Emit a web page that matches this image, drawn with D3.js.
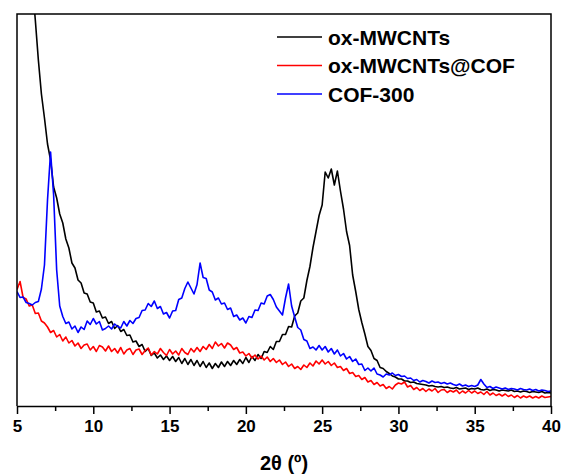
<!DOCTYPE html>
<html>
<head>
<meta charset="utf-8">
<script src="https://cdn.jsdelivr.net/npm/d3@7"></script>
<style>
  html, body { margin: 0; padding: 0; background: #fff; }
  svg { display: block; }
  text { font-family: "Liberation Sans", Arial, sans-serif; font-weight: bold; fill: #000; }
</style>
</head>
<body>
<svg id="chart" width="561" height="475"></svg>
<script>
// Diffraction angle grid (2θ, degrees), sampled every 0.2° from 5 to 40
const angleStart = 5;
const angleStep = 0.2;

// Intensity (a.u.) for each angle on the grid
const oxMWCNTs = [
  6560, 6070, 5540, 5080, 4600, 4230, 3860, 3460, 3120, 2880,
  2620, 2460, 2190, 2080, 1920, 1830, 1670, 1580, 1430, 1380,
  1260, 1230, 1130, 1120, 1040, 1030, 940, 950, 880, 890,
  825, 845, 775, 805, 745, 765, 705, 710, 640, 650,
  595, 615, 545, 575, 505, 530, 480, 510, 465, 500,
  455, 495, 445, 485, 425, 475, 415, 465, 405, 455,
  395, 445, 385, 430, 375, 425, 385, 440, 395, 445,
  405, 455, 415, 465, 425, 485, 435, 495, 455, 515,
  475, 545, 535, 595, 565, 645, 645, 715, 715, 795,
  790, 900, 930, 1050, 1080, 1255, 1395, 1585, 1745, 1905,
  2010, 2340, 2280, 2370, 2210, 2350, 2150, 1970, 1745, 1605,
  1310, 1145, 965, 835, 720, 595, 555, 475, 455, 385,
  375, 345, 325, 300, 290, 270, 270, 250, 250, 235,
  240, 225, 220, 215, 210, 200, 205, 195, 190, 195,
  185, 190, 180, 175, 185, 170, 175, 180, 165, 175,
  170, 180, 165, 160, 170, 155, 165, 160, 150, 160,
  155, 150, 160, 145, 150, 140, 150, 145, 135, 145,
  140, 135, 145, 130, 135, 130
];

const oxMWCNTsCOF = [
  1165, 1245, 1085, 1070, 1000, 1010, 925, 930, 850, 830,
  790, 735, 755, 690, 715, 650, 690, 630, 655, 600,
  630, 575, 610, 620, 560, 595, 545, 605, 590, 550,
  600, 545, 575, 530, 585, 520, 560, 575, 515, 560,
  570, 515, 555, 580, 510, 545, 520, 575, 535, 505,
  565, 520, 550, 510, 575, 535, 515, 575, 540, 585,
  545, 595, 565, 615, 575, 640, 600, 625, 580, 630,
  610, 565, 585, 530, 540, 500, 525, 480, 510, 470,
  500, 460, 490, 445, 475, 435, 460, 415, 440, 395,
  420, 375, 395, 365, 410, 385, 430, 400, 450, 420,
  460, 420, 445, 405, 430, 385, 395, 355, 375, 325,
  335, 295, 305, 265, 285, 240, 255, 215, 235, 200,
  215, 175, 195, 170, 210, 230, 220, 240, 190, 205,
  165, 185, 155, 175, 145, 170, 150, 175, 135, 160,
  165, 135, 155, 140, 160, 125, 150, 130, 155, 130,
  150, 125, 140, 115, 145, 110, 130, 105, 120, 100,
  120, 95, 110, 85, 105, 80, 100, 85, 100, 80,
  95, 80, 100, 85, 90, 95
];

const cof300 = [
  1145, 1085, 1090, 1035, 1025, 1010, 1035, 1045, 1170, 1410,
  2060, 2540, 2110, 1360, 1000, 895, 825, 840, 770, 800,
  735, 790, 765, 850, 815, 875, 820, 845, 760, 775,
  800, 770, 820, 795, 780, 845, 800, 855, 825, 875,
  885, 955, 960, 1025, 995, 1050, 975, 995, 920, 935,
  880, 950, 955, 1065, 1080, 1175, 1240, 1180, 1120, 1215,
  1430, 1285, 1275, 1160, 1140, 1060, 1080, 1020, 1030, 965,
  980, 895, 910, 860, 880, 830, 895, 885, 960, 955,
  1030, 1020, 1100, 1115, 1065, 990, 950, 910, 1080, 1220,
  1000, 890, 785, 760, 665, 650, 575, 590, 560, 605,
  560, 595, 540, 575, 520, 560, 500, 525, 470, 495,
  445, 470, 415, 420, 355, 380, 350, 380, 320, 310,
  290, 320, 310, 330, 305, 315, 295, 300, 275, 280,
  255, 265, 240, 255, 245, 230, 250, 235, 240, 225,
  235, 220, 230, 215, 205, 220, 200, 210, 195, 205,
  195, 210, 265, 220, 185, 195, 175, 190, 180, 170,
  180, 165, 175, 170, 160, 175, 165, 160, 170, 155,
  165, 150, 160, 155, 145, 150
];

const seriesNames = ["ox-MWCNTs", "ox-MWCNTs@COF", "COF-300"];
const seriesColors = ["#000000", "#ff0000", "#0000ff"];
const xTicks = [5, 10, 15, 20, 25, 30, 35, 40];
const xMinorTicks = [7.5, 12.5, 17.5, 22.5, 27.5, 32.5, 37.5];
const xTitle = "2θ (º)";

const svg = d3.select("#chart");
const W = 561, H = 475;
const plot = { left: 17, right: 551, top: 14, bottom: 406 };

svg.append("rect").attr("width", W).attr("height", H).attr("fill", "#fff");

const x = d3.scaleLinear().domain([5, 40]).range([plot.left, plot.right]);
const y = d3.scaleLinear().domain([0, 3920]).range([plot.bottom, plot.top]);

svg.append("defs").append("clipPath").attr("id", "plotClip")
  .append("rect")
  .attr("x", plot.left).attr("y", plot.top)
  .attr("width", plot.right - plot.left).attr("height", plot.bottom - plot.top);

const allSeries = [oxMWCNTs, oxMWCNTsCOF, cof300];
const line = d3.line()
  .x((d, i) => x(angleStart + i * angleStep))
  .y(d => y(d));

const curves = svg.append("g").attr("clip-path", "url(#plotClip)");
allSeries.forEach((vals, k) => {
  curves.append("path")
    .datum(vals)
    .attr("d", line)
    .attr("fill", "none")
    .attr("stroke", seriesColors[k])
    .attr("stroke-width", 1.6)
    .attr("stroke-linejoin", "round");
});

// Frame (left, top, right edges)
svg.append("path")
  .attr("d", `M${plot.left},${plot.bottom}V${plot.top}H${plot.right}V${plot.bottom}`)
  .attr("fill", "none").attr("stroke", "#000").attr("stroke-width", 1.5);

// Bottom axis: major ticks with labels, minor ticks without
const xAxis = d3.axisBottom(x).tickValues(xTicks).tickSize(8).tickPadding(6).tickSizeOuter(0)
  .tickFormat(d3.format("d"));
const gx = svg.append("g").attr("transform", `translate(0,${plot.bottom})`).call(xAxis);
gx.select(".domain").attr("stroke-width", 1.5);
gx.selectAll(".tick line").attr("stroke-width", 1.5);
gx.selectAll(".tick text").attr("font-family", "Liberation Sans, Arial, sans-serif")
  .attr("font-weight", "bold").attr("font-size", 17);

const xMinor = d3.axisBottom(x).tickValues(xMinorTicks).tickSize(5).tickSizeOuter(0).tickFormat("");
const gm = svg.append("g").attr("transform", `translate(0,${plot.bottom})`).call(xMinor);
gm.select(".domain").remove();
gm.selectAll(".tick line").attr("stroke-width", 1.5);

svg.append("text")
  .attr("x", (plot.left + plot.right) / 2)
  .attr("y", 470)
  .attr("text-anchor", "middle")
  .attr("font-size", 20)
  .text(xTitle);

// Legend
const legend = svg.append("g");
seriesNames.forEach((name, k) => {
  const ly = 37 + k * 28.5;
  legend.append("line")
    .attr("x1", 277).attr("x2", 322).attr("y1", ly).attr("y2", ly)
    .attr("stroke", seriesColors[k]).attr("stroke-width", 1.4);
  legend.append("text")
    .attr("x", 328).attr("y", ly + 7.5)
    .attr("font-size", 21)
    .text(name);
});
</script>
</body>
</html>
